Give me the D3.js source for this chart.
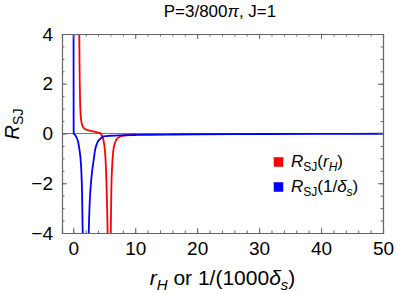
<!DOCTYPE html>
<html>
<head>
<meta charset="utf-8">
<script src="https://cdn.jsdelivr.net/npm/d3@7"></script>
<style>
  body { margin: 0; background: #fff; }
  svg { display: block; font-family: "Liberation Sans", Arial, sans-serif; }
  .frame path, .frame line { stroke: #666; }
  .frame text { fill: #000; }
</style>
</head>
<body>
<div id="chart"></div>
<script>
"use strict";

// R_SJ(r_H), red: two branches separated by the pole near r = 5.8
const redBranch1 = [[0.95, 4.6], [0.97, 4.0], [1.0, 3.0], [1.05, 2.0], [1.1, 1.3], [1.18, 0.8],
    [1.3, 0.5], [1.5, 0.3], [1.8, 0.2], [2.3, 0.14], [3.0, 0.1], [3.6, 0.07], [4.1, 0.03],
    [4.4, 0], [4.7, -0.12], [4.9, -0.3], [5.1, -0.67], [5.22, -1.1], [5.35, -1.9],
    [5.45, -2.9], [5.55, -4.0], [5.6, -4.8]];
const redBranch2 = [[6.0, -4.8], [6.05, -4.0], [6.15, -2.2], [6.3, -1.2], [6.45, -0.72],
    [6.7, -0.4], [7.1, -0.2], [7.6, -0.12], [8.5, -0.07], [9.3, -0.05], [10.2, -0.04]];

// R_SJ(1/delta_s), blue
const blueBranch1 = [[0.045, 4.6], [0.05, 2.5], [0.055, 1.0], [0.06, 0.3], [0.065, 0.05],
    [0.08, -0.01], [0.2, -0.04], [0.4, -0.1], [0.6, -0.2], [0.8, -0.35], [0.97, -0.6],
    [1.15, -0.95], [1.3, -1.5], [1.42, -2.4], [1.52, -4.0], [1.56, -4.8]];
const blueBranch2 = [[2.45, -4.8], [2.5, -4.0], [2.65, -2.8], [2.85, -2.0], [3.05, -1.5],
    [3.3, -1.05], [3.56, -0.62], [3.8, -0.42], [4.1, -0.28], [4.5, -0.18], [4.9, -0.12],
    [6, -0.09], [8, -0.07], [10, -0.06], [12, -0.05], [16, -0.04], [20, -0.03],
    [30, -0.02], [40, -0.015], [50, -0.01]];

const xMajor = [0, 10, 20, 30, 40, 50];
const xMinor = d3.range(0, 51, 2);
const yMajor = [-4, -2, 0, 2, 4];
const yMinor = d3.range(-4, 4.01, 0.5);

const width = 396, height = 293;
const margin = {top: 34, right: 13, bottom: 60, left: 62};

const svg = d3.select("#chart").append("svg")
    .attr("width", width).attr("height", height);

const x = d3.scaleLinear().domain([-1.82, 50]).range([margin.left, width - margin.right]);
const y = d3.scaleLinear().domain([-4, 4]).range([height - margin.bottom, margin.top]);

svg.append("clipPath").attr("id", "plot-clip")
    .append("rect")
    .attr("x", margin.left).attr("y", margin.top)
    .attr("width", x.range()[1] - x.range()[0])
    .attr("height", y.range()[0] - y.range()[1]);

// zero axis
svg.append("line")
    .attr("x1", x.range()[0]).attr("x2", x.range()[1])
    .attr("y1", y(0)).attr("y2", y(0))
    .attr("stroke", "#777").attr("stroke-width", 1);

const line = d3.line()
    .x(function (d) { return x(d[0]); })
    .y(function (d) { return y(d[1]); })
    .curve(d3.curveMonotoneX);

const curves = svg.append("g").attr("clip-path", "url(#plot-clip)");
[[redBranch1, "#ff0000"], [redBranch2, "#ff0000"], [blueBranch1, "#0000ff"], [blueBranch2, "#0000ff"]]
    .forEach(function (s) {
        curves.append("path")
            .datum(s[0])
            .attr("fill", "none")
            .attr("stroke", s[1])
            .attr("stroke-width", 1.8)
            .attr("d", line);
    });

function addAxis(axis, transform, labels) {
    const g = svg.append("g").attr("class", "frame")
        .attr("transform", transform)
        .call(axis);
    g.selectAll("text").attr("font-size", 19);
    if (!labels) g.selectAll("text").remove();
    return g;
}

const fmt = d3.format("d");
const atBottom = "translate(0," + y.range()[0] + ")";
const atTop = "translate(0," + y.range()[1] + ")";
const atLeft = "translate(" + x.range()[0] + ",0)";
const atRight = "translate(" + x.range()[1] + ",0)";

addAxis(d3.axisBottom(x).tickValues(xMinor).tickSize(-2.5).tickFormat(""), atBottom, false)
    .select(".domain").remove();
addAxis(d3.axisBottom(x).tickValues(xMajor).tickSize(-5).tickPadding(9).tickFormat(fmt), atBottom, true);
addAxis(d3.axisTop(x).tickValues(xMinor).tickSize(-2.5).tickFormat(""), atTop, false)
    .select(".domain").remove();
addAxis(d3.axisTop(x).tickValues(xMajor).tickSize(-5).tickFormat(""), atTop, false);

addAxis(d3.axisLeft(y).tickValues(yMinor).tickSize(-2.5).tickFormat(""), atLeft, false)
    .select(".domain").remove();
addAxis(d3.axisLeft(y).tickValues(yMajor).tickSize(-5).tickPadding(9).tickFormat(fmt), atLeft, true);
addAxis(d3.axisRight(y).tickValues(yMinor).tickSize(-2.5).tickFormat(""), atRight, false)
    .select(".domain").remove();
addAxis(d3.axisRight(y).tickValues(yMajor).tickSize(-5).tickFormat(""), atRight, false);

svg.selectAll(".frame .domain").attr("stroke-width", 1.2);

// title
svg.append("text")
    .attr("x", 220).attr("y", 17)
    .attr("text-anchor", "middle")
    .attr("font-size", 17)
    .html('P=3/800<tspan font-style="italic">π</tspan>, J=1');

// x label
const xl = svg.append("text")
    .attr("x", (x.range()[0] + x.range()[1]) / 2).attr("y", 285)
    .attr("text-anchor", "middle")
    .attr("font-size", 21);
xl.append("tspan").attr("font-style", "italic").text("r");
xl.append("tspan").attr("font-style", "italic").attr("font-size", 15).attr("dy", 5).text("H");
xl.append("tspan").attr("dy", -5).text(" or 1/(1000");
xl.append("tspan").attr("font-style", "italic").text("δ");
xl.append("tspan").attr("font-style", "italic").attr("font-size", 15).attr("dy", 5).text("s");
xl.append("tspan").attr("dy", -5).text(")");

// y label
const yl = svg.append("text")
    .attr("transform", "translate(19,124) rotate(-90)")
    .attr("text-anchor", "middle")
    .attr("font-size", 20);
yl.append("tspan").attr("font-style", "italic").text("R");
yl.append("tspan").attr("font-size", 14).attr("dy", 4).text("SJ");

// legend
const legendItems = [
    {color: "#ff0000", parts: [["R", "i"], ["SJ", "s"], ["(", ""], ["r", "i"], ["H", "si"], [")", ""]]},
    {color: "#0000ff", parts: [["R", "i"], ["SJ", "s"], ["(1/", ""], ["δ", "i"], ["s", "si"], [")", ""]]}
];
legendItems.forEach(function (item, i) {
    const cy = 162 + i * 25;
    svg.append("rect")
        .attr("x", 274).attr("y", cy - 4.5)
        .attr("width", 9).attr("height", 9)
        .attr("fill", item.color)
        .attr("stroke", d3.color(item.color).darker(0.5)).attr("stroke-width", 0.5);
    const t = svg.append("text")
        .attr("x", 291).attr("y", cy + 5)
        .attr("font-size", 17);
    let shifted = false;
    item.parts.forEach(function (p) {
        const ts = t.append("tspan").text(p[0]);
        if (p[1].indexOf("i") >= 0) ts.attr("font-style", "italic");
        if (p[1].indexOf("s") >= 0) {
            ts.attr("font-size", 12);
            if (!shifted) { ts.attr("dy", 4); shifted = true; }
        } else if (shifted) {
            ts.attr("dy", -4); shifted = false;
        }
    });
});
</script>
</body>
</html>
